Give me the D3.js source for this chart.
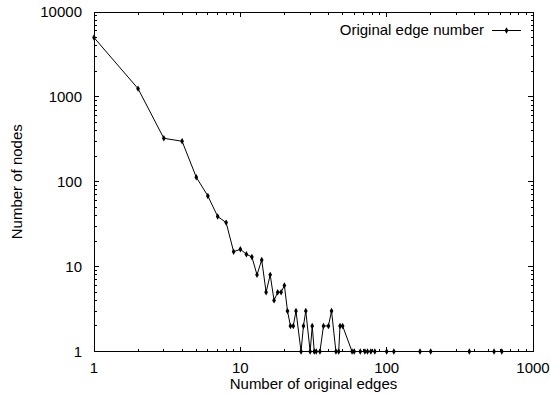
<!DOCTYPE html>
<meta charset="utf-8">
<style>
body { margin: 0; background: #fff; }
text { font-family: "Liberation Sans", Arial, sans-serif; font-size: 15px; fill: #000; }
.line { fill: none; stroke: #000; stroke-width: 1px; }
</style>
<body>
<script src="https://d3js.org/d3.v7.min.js"></script>
<script>

// edges per node (x) and number of nodes (y)
var edges = [1, 2, 3, 4, 5, 6, 7, 8, 9, 10, 11, 12, 13, 14, 15, 16, 17, 18, 19, 20,
             21, 22, 23, 24, 26, 27, 28, 30, 31, 32, 33, 35, 37, 40, 42, 45, 47, 48, 50,
             58, 60, 66, 71, 74, 78, 83, 100, 112, 169, 200, 367, 542, 612];
var nodes = [5000, 1250, 325, 300, 113, 68, 39, 33, 15, 16, 14, 13, 8, 12, 5, 8, 4, 5, 5, 6,
             3, 2, 2, 3, 1, 2, 3, 1, 2, 1, 1, 1, 2, 2, 3, 1, 1, 2, 2,
             1, 1, 1, 1, 1, 1, 1, 1, 1, 1, 1, 1, 1, 1];
var xTicks = [1, 10, 100, 1000];
var yTicks = [1, 10, 100, 1000, 10000];
var seriesName = "Original edge number";

var data = edges.map(function(e, i) { return {x: e, y: nodes[i]}; });

var width = 550, height = 394;
var pl = 94, pr = 533, pt = 12, pb = 351.5;

var svg = d3.select("body").append("svg")
    .attr("width", width)
    .attr("height", height);

var x = d3.scaleLog().domain([1, 1000]).range([pl, pr]);
var y = d3.scaleLog().domain([1, 10000]).range([pb, pt]);

// minor ticks
function minors(domain) {
  var out = [];
  for (var p = domain[0]; p < domain[1]; p *= 10)
    for (var k = 2; k < 10; k++) out.push(p * k);
  return out;
}

var major = 5, minor = 2.5;

var g = svg.append("g").attr("stroke", "#000").attr("stroke-width", 1).attr("shape-rendering", "crispEdges");

xTicks.concat(minors([1, 1000])).forEach(function(v) {
  var len = xTicks.indexOf(v) >= 0 ? major : minor;
  g.append("line").attr("x1", x(v)).attr("x2", x(v)).attr("y1", pb).attr("y2", pb - len);
  g.append("line").attr("x1", x(v)).attr("x2", x(v)).attr("y1", pt).attr("y2", pt + len);
});
yTicks.concat(minors([1, 10000])).forEach(function(v) {
  var len = yTicks.indexOf(v) >= 0 ? major : minor;
  g.append("line").attr("x1", pl).attr("x2", pl + len).attr("y1", y(v)).attr("y2", y(v));
  g.append("line").attr("x1", pr).attr("x2", pr - len).attr("y1", y(v)).attr("y2", y(v));
});

svg.append("rect")
    .attr("x", pl).attr("y", pt)
    .attr("width", pr - pl).attr("height", pb - pt)
    .attr("fill", "none").attr("stroke", "#000").attr("shape-rendering", "crispEdges");

// tick labels
svg.selectAll(".xl").data(xTicks).enter().append("text")
    .attr("x", function(d) { return x(d); })
    .attr("y", 373)
    .attr("text-anchor", "middle")
    .text(function(d) { return d; });

svg.selectAll(".yl").data(yTicks).enter().append("text")
    .attr("x", 82)
    .attr("y", function(d) { return y(d) + 5; })
    .attr("text-anchor", "end")
    .text(function(d) { return d; });

svg.append("text")
    .attr("x", (pl + pr) / 2)
    .attr("y", 389)
    .attr("text-anchor", "middle")
    .text("Number of original edges");

svg.append("text")
    .attr("transform", "translate(22," + ((pt + pb) / 2) + ") rotate(-90)")
    .attr("text-anchor", "middle")
    .text("Number of nodes");

// series
var line = d3.line()
    .x(function(d) { return x(d.x); })
    .y(function(d) { return y(d.y); });

svg.append("path").datum(data).attr("class", "line").attr("d", line);

var sym = d3.symbol().type(d3.symbolDiamond).size(12);
svg.selectAll(".pt").data(data).enter().append("path")
    .attr("transform", function(d) { return "translate(" + x(d.x) + "," + y(d.y) + ")"; })
    .attr("d", sym)
    .attr("fill", "#000");

// legend
svg.append("text")
    .attr("x", 484)
    .attr("y", 35)
    .attr("text-anchor", "end")
    .text(seriesName);
svg.append("line")
    .attr("x1", 492).attr("x2", 521).attr("y1", 30.5).attr("y2", 30.5)
    .attr("stroke", "#000");
svg.append("path")
    .attr("transform", "translate(506.5,30.5)")
    .attr("d", sym)
    .attr("fill", "#000");

</script>
</body>
